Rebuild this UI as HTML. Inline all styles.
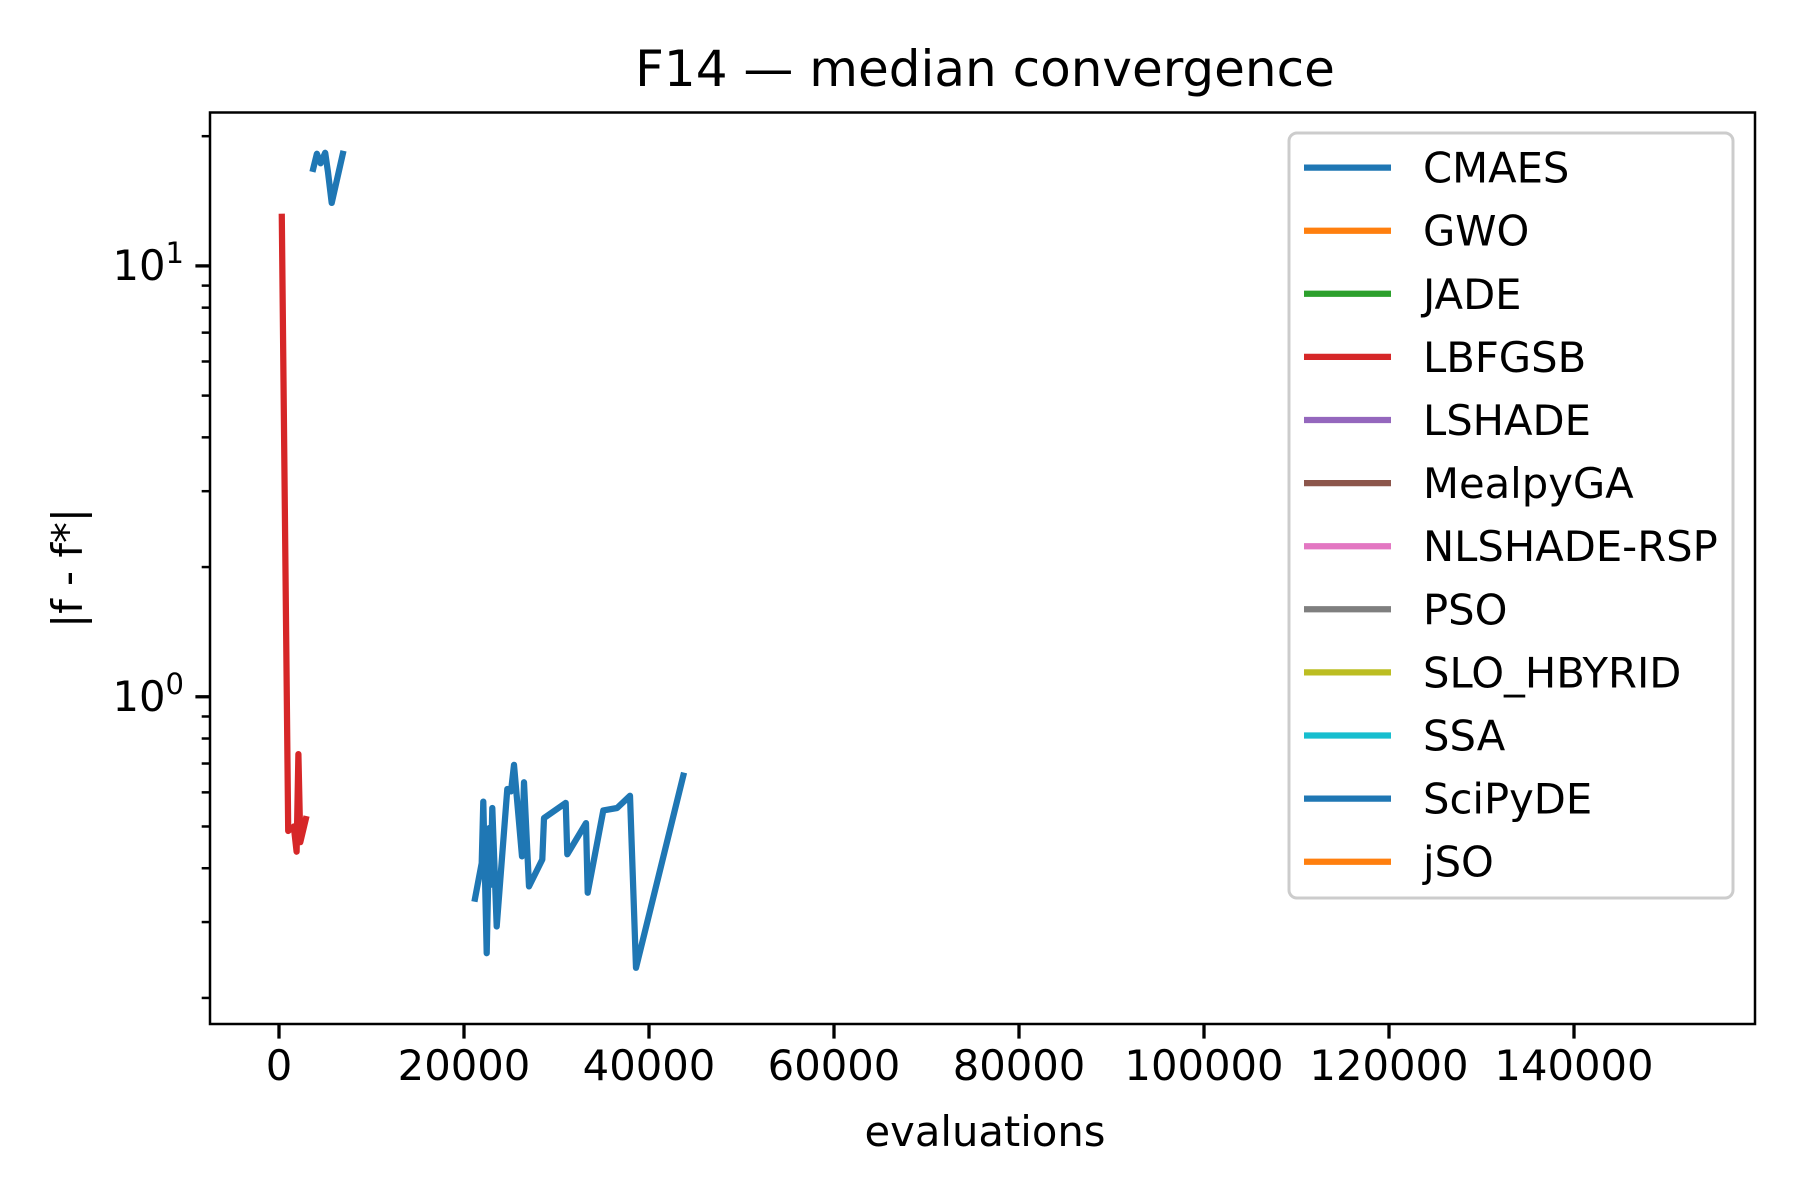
<!DOCTYPE html>
<html><head><meta charset="utf-8"><style>
html,body{margin:0;padding:0;background:#fff;}
svg{display:block;font-family:"DejaVu Sans","Liberation Sans",sans-serif;}
</style></head><body>
<svg id="chart" width="1800" height="1200" viewBox="0 0 1800 1200">
<rect x="0" y="0" width="1800" height="1200" fill="#fff"/>
<text x="985" y="86" font-size="50" text-anchor="middle">F14 — median convergence</text>
<text x="985" y="1146" font-size="41.7" text-anchor="middle">evaluations</text>
<text transform="translate(82,568) rotate(-90)" font-size="41.7" text-anchor="middle">|f - f*|</text>
<g id="ticks"></g>
<g id="series"></g>
<rect x="210" y="112.5" width="1545" height="911.5" fill="none" stroke="#000" stroke-width="2.5"/>
<g id="legend"></g>
</svg>
<script>
const xTicks=[0,20000,40000,60000,80000,100000,120000,140000];
const yMajor=[1,10];
const cmaesX=[3700,4100,4500,5000,5300,5700,6900];
const cmaesY=[16.8,18.2,17.3,18.3,16.5,14.0,18.2];
const lbfgsbX=[300,1000,1600,1900,2100,2300,2900];
const lbfgsbY=[13.0,0.488,0.50,0.437,0.736,0.46,0.52];
const scipydeX=[21190,21910,22090,22450,22740,22880,23060,23530,24680,25080,25410,26270,26490,27030,28460,28650,30990,31170,33190,33370,35060,36550,37950,38600,43710];
const scipydeY=[0.34,0.411,0.571,0.254,0.496,0.366,0.552,0.293,0.611,0.603,0.695,0.426,0.633,0.363,0.419,0.523,0.567,0.431,0.509,0.351,0.545,0.552,0.589,0.235,0.656];
const legendNames=["CMAES","GWO","JADE","LBFGSB","LSHADE","MealpyGA","NLSHADE-RSP","PSO","SLO_HBYRID","SSA","SciPyDE","jSO"];
const legendColors=["#1f77b4","#ff7f0e","#2ca02c","#d62728","#9467bd","#8c564b","#e377c2","#7f7f7f","#bcbd22","#17becf","#1f77b4","#ff7f0e"];

const NS="http://www.w3.org/2000/svg";
const L=210,R=1755,T=112.5,B=1024;
const xMin=-7459,xMax=159567;
const yLogMin=Math.log10(0.174),yLogMax=1.356;
function xs(v){return L+(v-xMin)/(xMax-xMin)*(R-L);}
function ys(v){return B-(Math.log10(v)-yLogMin)/(yLogMax-yLogMin)*(B-T);}
function mk(tag,attrs,parent){const e=document.createElementNS(NS,tag);for(const k in attrs)e.setAttribute(k,attrs[k]);parent.appendChild(e);return e;}

const tg=document.getElementById('ticks');
xTicks.forEach(v=>{
  const x=xs(v);
  const l=mk('line',{x1:x,x2:x,y1:B,y2:B+14.6,stroke:'#000','stroke-width':3.3},tg);
  
  
  const t=mk('text',{x:x,y:B+56,'font-size':41.7,'text-anchor':'middle'},tg);
  t.textContent=String(v);
  
  
});
for(let d=-1;d<=1;d++){
  for(let m=1;m<=9;m++){
    const v=m*Math.pow(10,d);
    const lv=Math.log10(v);
    if(lv<yLogMin||lv>yLogMax)continue;
    const y=ys(v);
    const major=(m===1);
    const l=mk('line',{x1:L,x2:L-(major?14.6:8.3),y1:y,y2:y,stroke:'#000','stroke-width':major?3.3:2.5},tg);
    
    
  }
}
yMajor.forEach(v=>{
  const y=ys(v);
  const t=mk('text',{x:184,y:y+14,'font-size':41.7,'text-anchor':'end'},tg);
  const base=document.createElementNS(NS,'tspan');base.textContent='10';t.appendChild(base);
  const sup=document.createElementNS(NS,'tspan');sup.setAttribute('dy','-17');sup.setAttribute('font-size','29');sup.textContent=String(Math.round(Math.log10(v)));t.appendChild(sup);
  
  
});

const sg=document.getElementById('series');
function line(xa,ya,color,name){
  const pts=xa.map((x,i)=>xs(x).toFixed(1)+','+ys(ya[i]).toFixed(1)).join(' ');
  const p=mk('polyline',{points:pts,fill:'none',stroke:color,'stroke-width':6.25,'stroke-linejoin':'round','stroke-linecap':'square'},sg);
  
  
}
line(cmaesX,cmaesY,'#1f77b4','cmaes-line');
line(lbfgsbX,lbfgsbY,'#d62728','lbfgsb-line');
line(scipydeX,scipydeY,'#1f77b4','scipyde-line');

const lg=document.getElementById('legend');
const box=mk('rect',{x:1289,y:133,width:444,height:765,rx:8,fill:'#fff','fill-opacity':0.8,stroke:'#ccc','stroke-width':3},lg);


legendNames.forEach((n,i)=>{
  const y=167.6+i*63.1;
  const g=mk('g',{},lg);
  
  
  mk('line',{x1:1304,x2:1391,y1:y,y2:y,stroke:legendColors[i],'stroke-width':6.25},g);
  const t=mk('text',{x:1423,y:y+15,'font-size':41.7},g);
  t.textContent=n;
});
</script>
</body></html>
